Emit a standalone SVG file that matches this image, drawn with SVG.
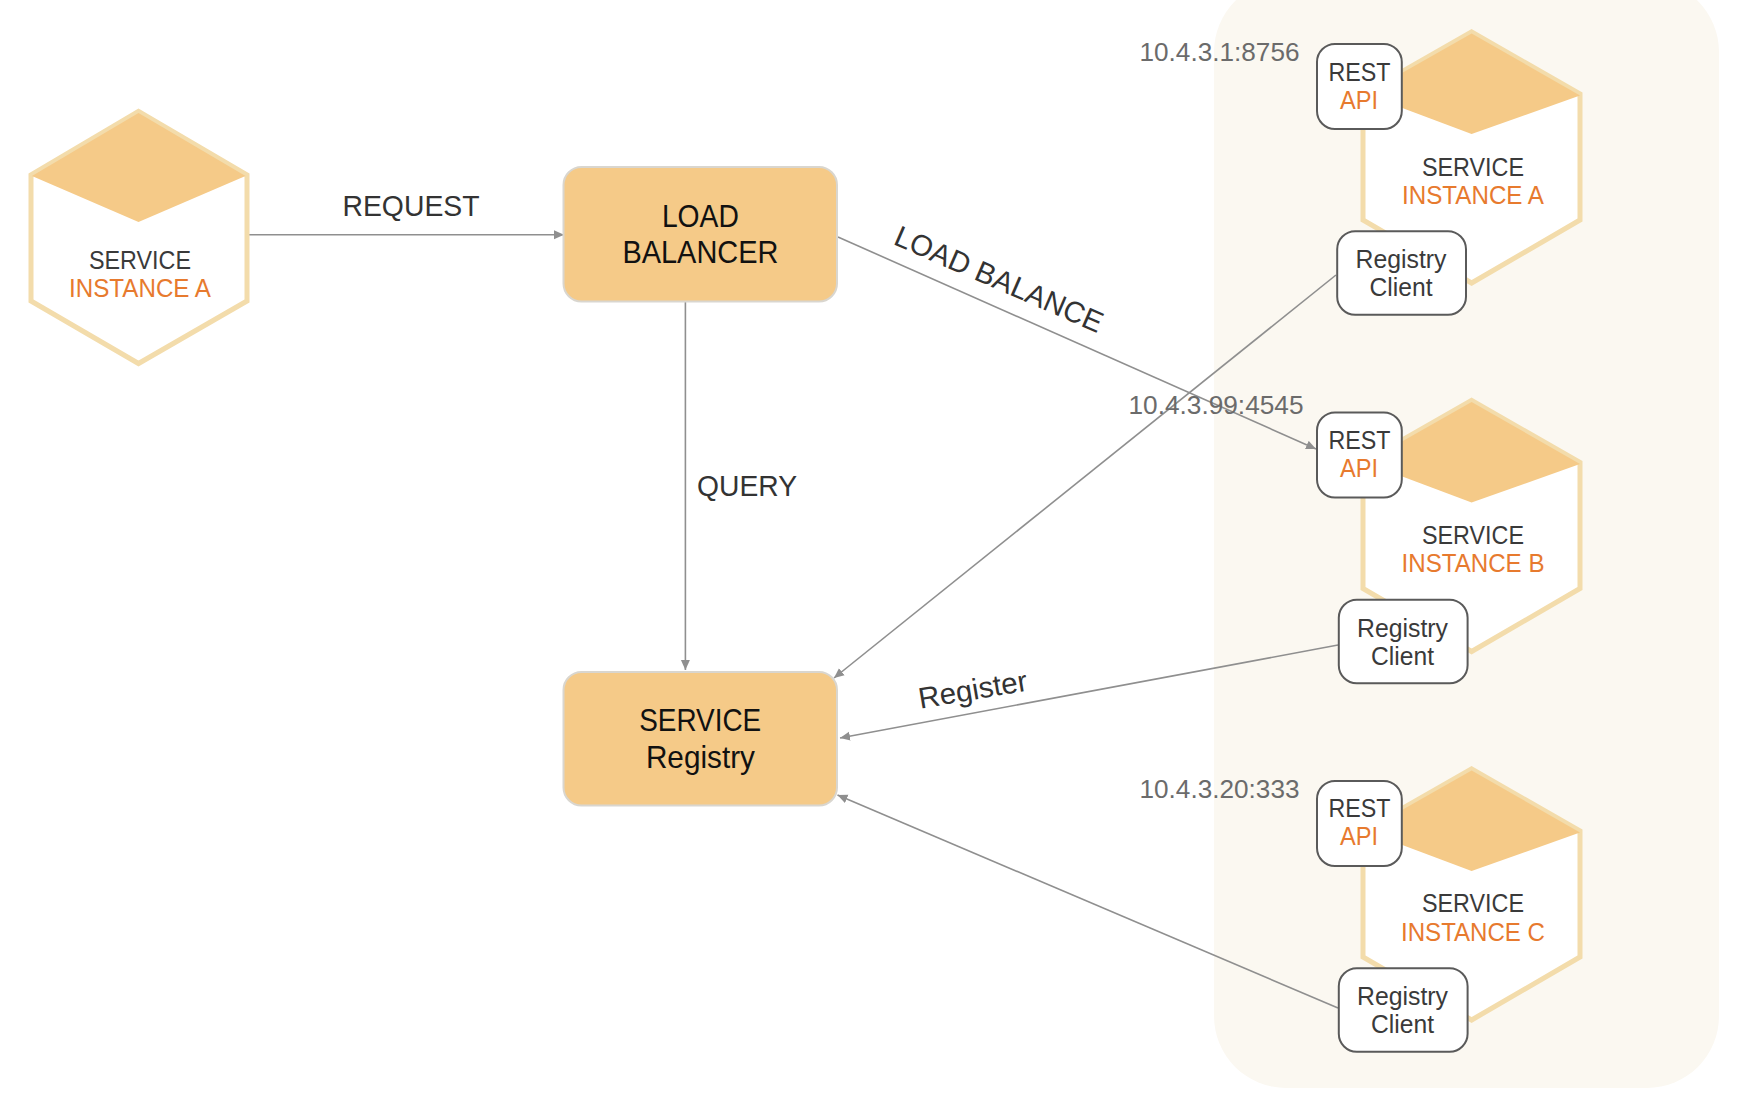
<svg xmlns="http://www.w3.org/2000/svg" width="1738" height="1096" viewBox="0 0 1738 1096">
<style>
text{font-family:"Liberation Sans",Arial,sans-serif;text-anchor:middle}
.hex{fill:#fff;stroke:#f3dcab;stroke-width:5}
.dia{fill:#f5ca88}
.box{fill:#f5ca88;stroke:#d9d6cf;stroke-width:2}
.chip{fill:#fff;stroke:#5a5a5a;stroke-width:2}
.t{font-size:25.5px;fill:#3a3a3a}
.o{font-size:25.5px;fill:#e77a2e}
.big{font-size:30.5px;fill:#111}
.lbl{font-size:29.5px;fill:#333}
.ip{font-size:26px;fill:#6b6b6b}
.c{stroke:#8f8f8f;stroke-width:1.6;fill:none;marker-end:url(#a)}
</style>
<defs>
<marker id="a" markerUnits="userSpaceOnUse" markerWidth="11" markerHeight="10" refX="10" refY="5" orient="auto"><path d="M0 .5L10 5L0 9.5Z" fill="#8f8f8f"/></marker>
<polygon id="rh" class="hex" points="1471.6,32 1580,94 1580,220 1471.6,283 1363,220 1363,94"/>
<polygon id="rd" class="dia" points="1471.6,33.5 1580,95.5 1471.6,134 1365,94"/>
<rect id="rest" class="chip" x="1317" y="44" width="84.8" height="85" rx="18"/>
<rect id="rc" class="chip" x="1337.2" y="231.2" width="128.8" height="83.6" rx="18"/>
</defs>
<rect id="panel" x="1214" y="-20" width="505" height="1108" rx="72" fill="#fbf8f1"/>
<g id="connectors">
<line class="c" x1="249" y1="234.7" x2="564" y2="234.7"/>
<line class="c" x1="838" y1="237" x2="1316" y2="449"/>
<line class="c" x1="685.4" y1="302" x2="685.4" y2="670"/>
<line class="c" x1="1336" y1="275" x2="834" y2="678"/>
<line class="c" x1="1338" y1="645" x2="840" y2="738"/>
<line class="c" x1="1338" y1="1008" x2="837.5" y2="795"/>
<text class="lbl" x="411" y="215.5" textLength="137" lengthAdjust="spacingAndGlyphs">REQUEST</text>
<text class="lbl" x="747" y="495.5" textLength="100" lengthAdjust="spacingAndGlyphs">QUERY</text>
<text class="lbl" transform="translate(995,288.5) rotate(23.5)" textLength="224" lengthAdjust="spacingAndGlyphs">LOAD BALANCE</text>
<text class="lbl" transform="translate(974.5,699.5) rotate(-9.6)" textLength="110" lengthAdjust="spacingAndGlyphs">Register</text>
</g>
<g id="client-service-a">
<polygon class="hex" points="138.5,111.5 247,175 247,301 138.5,363.5 31,301 31,175"/>
<polygon class="dia" points="138.5,113 245.5,176 138.5,222 32,176"/>
<text class="t" x="140" y="269" textLength="102" lengthAdjust="spacingAndGlyphs">SERVICE</text>
<text class="o" x="140" y="297" textLength="142" lengthAdjust="spacingAndGlyphs">INSTANCE A</text>
</g>
<g id="load-balancer">
<rect class="box" x="563.5" y="167" width="273.5" height="134.5" rx="18"/>
<text class="big" x="700.4" y="227" textLength="77" lengthAdjust="spacingAndGlyphs">LOAD</text>
<text class="big" x="700.4" y="263" textLength="156" lengthAdjust="spacingAndGlyphs">BALANCER</text>
</g>
<g id="service-registry">
<rect class="box" x="563.5" y="672" width="273.5" height="133.5" rx="18"/>
<text class="big" x="700.2" y="731" textLength="122" lengthAdjust="spacingAndGlyphs">SERVICE</text>
<text class="big" x="700.4" y="767.5" textLength="109" lengthAdjust="spacingAndGlyphs">Registry</text>
</g>
<g id="instance-a">
<use href="#rh"/><use href="#rd"/><use href="#rest"/><use href="#rc"/>
<text class="ip" x="1219.5" y="60.7" textLength="160" lengthAdjust="spacingAndGlyphs">10.4.3.1:8756</text>
<text class="t" x="1359.5" y="81" textLength="62" lengthAdjust="spacingAndGlyphs">REST</text>
<text class="o" x="1359" y="109" textLength="38" lengthAdjust="spacingAndGlyphs">API</text>
<text class="t" x="1473" y="175.7" textLength="102" lengthAdjust="spacingAndGlyphs">SERVICE</text>
<text class="o" x="1473" y="204" textLength="142" lengthAdjust="spacingAndGlyphs">INSTANCE A</text>
<text class="t" x="1401" y="268" textLength="91" lengthAdjust="spacingAndGlyphs">Registry</text>
<text class="t" x="1401" y="296" textLength="63" lengthAdjust="spacingAndGlyphs">Client</text>
</g>
<g id="instance-b" transform="translate(0,368.5)">
<use href="#rh"/><use href="#rd"/><use href="#rest"/><use href="#rc" x="1.6"/>
<text class="ip" x="1216" y="45.7" textLength="175" lengthAdjust="spacingAndGlyphs">10.4.3.99:4545</text>
<text class="t" x="1359.5" y="80" textLength="62" lengthAdjust="spacingAndGlyphs">REST</text>
<text class="o" x="1359" y="108" textLength="38" lengthAdjust="spacingAndGlyphs">API</text>
<text class="t" x="1473" y="175" textLength="102" lengthAdjust="spacingAndGlyphs">SERVICE</text>
<text class="o" x="1473" y="203.3" textLength="143" lengthAdjust="spacingAndGlyphs">INSTANCE B</text>
<text class="t" x="1402.5" y="268" textLength="91" lengthAdjust="spacingAndGlyphs">Registry</text>
<text class="t" x="1402.5" y="296" textLength="63" lengthAdjust="spacingAndGlyphs">Client</text>
</g>
<g id="instance-c" transform="translate(0,737)">
<use href="#rh"/><use href="#rd"/><use href="#rest"/><use href="#rc" x="1.6"/>
<text class="ip" x="1219.5" y="61" textLength="160" lengthAdjust="spacingAndGlyphs">10.4.3.20:333</text>
<text class="t" x="1359.5" y="80" textLength="62" lengthAdjust="spacingAndGlyphs">REST</text>
<text class="o" x="1359" y="108" textLength="38" lengthAdjust="spacingAndGlyphs">API</text>
<text class="t" x="1473" y="175" textLength="102" lengthAdjust="spacingAndGlyphs">SERVICE</text>
<text class="o" x="1473" y="204" textLength="144" lengthAdjust="spacingAndGlyphs">INSTANCE C</text>
<text class="t" x="1402.5" y="268" textLength="91" lengthAdjust="spacingAndGlyphs">Registry</text>
<text class="t" x="1402.5" y="296" textLength="63" lengthAdjust="spacingAndGlyphs">Client</text>
</g>
</svg>
